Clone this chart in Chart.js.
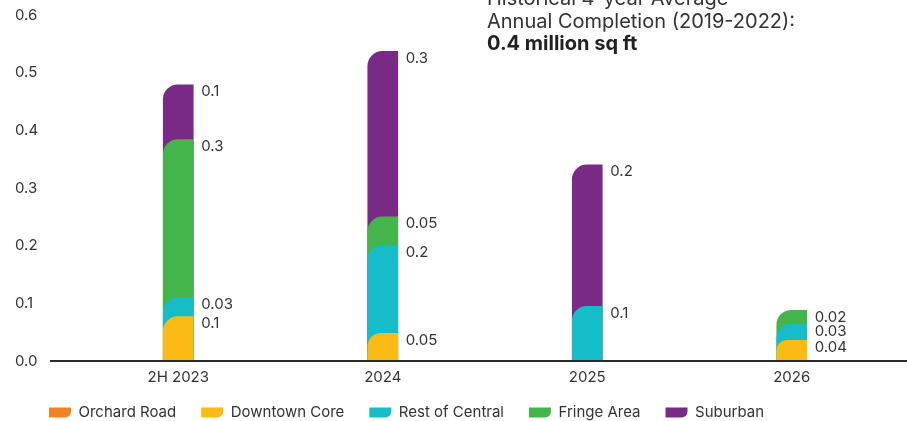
<!DOCTYPE html>
<html>
<head>
<meta charset="utf-8">
<script src="https://cdn.jsdelivr.net/npm/chart.js@4.4.1/dist/chart.umd.min.js"></script>
<style>
  html, body { margin: 0; padding: 0; background: #fff; }
  #wrap { position: relative; width: 907px; height: 421px; }
</style>
</head>
<body>
<div id="wrap"><canvas id="supplyChart"></canvas></div>
<script>
// supply pipeline, million sq ft per region
const categories = ['2H 2023', '2024', '2025', '2026'];
const orchardRoad = [0, 0, 0, 0];
const downtownCore = [0.077, 0.048, 0, 0.036];
const restOfCentral = [0.033, 0.152, 0.095, 0.028];
const fringeArea = [0.274, 0.05, 0, 0.024];
const suburban = [0.095, 0.287, 0.245, 0];
const yTicks = [0, 0.1, 0.2, 0.3, 0.4, 0.5, 0.6];

const regions = ['Orchard Road', 'Downtown Core', 'Rest of Central', 'Fringe Area', 'Suburban'];
const regionValues = [orchardRoad, downtownCore, restOfCentral, fringeArea, suburban];
const regionColors = ['#F58220', '#FBBA14', '#16BDC8', '#44B54B', '#782A86'];

const FONT = 'Inter';
const TEXT = '#333333';

// each segment is drawn as a bar from zero up to its running total,
// lower regions on top, so every segment gets its own rounded corner
const running = [0, 0, 0, 0];
const datasets = regionValues.map((vals, i) => {
  const tops = vals.map((v, j) => {
    running[j] += v;
    return v > 0 ? running[j] : null;
  });
  return {
    label: regions[i],
    data: tops,
    segments: vals,
    backgroundColor: regionColors[i],
    borderWidth: 0,
    borderRadius: { topLeft: 15 },
    borderSkipped: 'start',
    grouped: false,
    barThickness: 30
  };
});

function fmt(v) {
  return v < 0.06 ? v.toFixed(2) : v.toFixed(1);
}

// legend sits a bit to the right of the axis labels
const legendNudge = {
  id: 'legendNudge',
  afterLayout(chart) {
    chart.legend.left += 9;
    chart.legend.top -= 8;
  }
};

const valueLabels = {
  id: 'valueLabels',
  afterDatasetsDraw(chart) {
    const ctx = chart.ctx;
    ctx.save();
    ctx.font = '15px ' + FONT;
    ctx.fillStyle = TEXT;
    ctx.textAlign = 'left';
    ctx.textBaseline = 'middle';
    chart.data.datasets.forEach((ds, i) => {
      chart.getDatasetMeta(i).data.forEach((bar, j) => {
        const v = ds.segments[j];
        if (!v) return;
        ctx.fillText(fmt(v), bar.x + bar.width / 2 + 8, bar.y + 7);
      });
    });
    // baseline
    const y = chart.scales.y.getPixelForValue(0);
    ctx.strokeStyle = '#2b2b2b';
    ctx.lineWidth = 2;
    ctx.beginPath();
    ctx.moveTo(50, y);
    ctx.lineTo(chart.width, y);
    ctx.stroke();
    ctx.restore();
  }
};

const titleNote = {
  id: 'titleNote',
  afterDraw(chart) {
    const ctx = chart.ctx;
    ctx.save();
    ctx.textAlign = 'left';
    ctx.textBaseline = 'alphabetic';
    ctx.fillStyle = TEXT;
    ctx.font = '20px ' + FONT;
    ctx.fillText('Historical 4-year Average', 487, 5);
    ctx.fillText('Annual Completion (2019-2022):', 487, 28);
    ctx.fillStyle = '#222';
    ctx.font = 'bold 20px ' + FONT;
    ctx.fillText('0.4 million sq ft', 487, 50);
    ctx.restore();
  }
};

new Chart(document.getElementById('supplyChart'), {
  type: 'bar',
  data: { labels: categories, datasets: datasets },
  options: {
    responsive: true,
    maintainAspectRatio: false,
    animation: false,
    layout: { padding: { left: 15, right: 13, top: 15, bottom: -17 } },
    plugins: {
      legend: {
        position: 'bottom',
        align: 'start',
        labels: {
          font: { family: FONT, size: 15 },
          color: TEXT,
          boxWidth: 22,
          boxHeight: 10,
          padding: 25,
          useBorderRadius: true,
          borderRadius: { bottomRight: 6 }
        }
      },
      tooltip: { enabled: false }
    },
    scales: {
      x: {
        afterFit: (scale) => { scale.height = 27; },
        grid: { display: false, drawTicks: false },
        border: { display: false },
        ticks: { font: { family: FONT, size: 15 }, color: TEXT, padding: 7 }
      },
      y: {
        min: 0,
        max: 0.6,
        afterBuildTicks: (scale) => { scale.ticks = yTicks.map(v => ({ value: v })); },
        afterFit: (scale) => { scale.width = 61; },
        grid: { display: false, drawTicks: false },
        border: { display: false },
        ticks: {
          font: { family: FONT, size: 15 },
          color: TEXT,
          padding: 0,
          crossAlign: 'far',
          callback: (v) => Number(v).toFixed(1)
        }
      }
    }
  },
  plugins: [legendNudge, valueLabels, titleNote]
});
</script>
</body>
</html>
